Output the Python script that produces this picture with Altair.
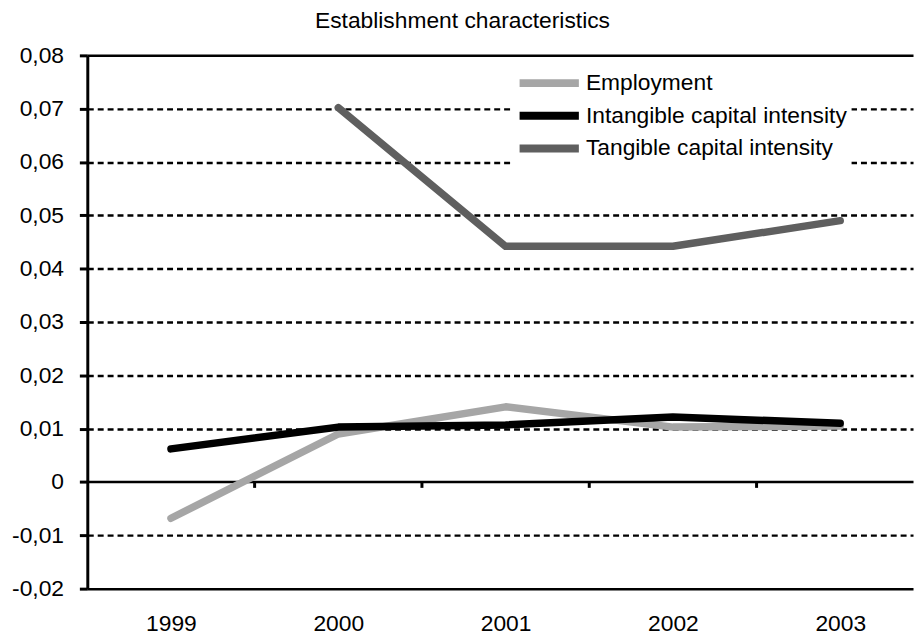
import altair as alt
import pandas as pd

years = [1999, 2000, 2001, 2002, 2003]
employment = [-0.0068, 0.0090, 0.0141, 0.0103, 0.0105]
intangible = [0.0062, 0.0103, 0.0107, 0.0122, 0.0110]
tangible = [None, 0.0702, 0.0442, 0.0442, 0.0490]
series_names = ["Employment", "Intangible capital intensity", "Tangible capital intensity"]
series_colors = ["#a6a6a6", "#000000", "#5f5f5f"]
y_ticks = [-0.02, -0.01, 0.0, 0.01, 0.02, 0.03, 0.04, 0.05, 0.06, 0.07, 0.08]
category_boundaries = [1999.5, 2000.5, 2001.5, 2002.5]
title_text = "Establishment characteristics"

rows = []
for name, vals in zip(series_names, [employment, intangible, tangible]):
    for yr, v in zip(years, vals):
        rows.append({"year": yr, "value": v, "series": name, "order": series_names.index(name)})
df = pd.DataFrame(rows)

FONT = "Liberation Sans"
FS = 23
x_scale = alt.Scale(domain=[1998.5, 2003.435], nice=False, zero=False)
y_scale = alt.Scale(domain=[-0.02, 0.08], nice=False, zero=False)

label_expr = "(datum.value < -1e-9 ? '-' : '') + (abs(datum.value) < 1e-9 ? '0' : replace(format(abs(datum.value), '.2f'), '.', ','))"

lines = alt.Chart(df).mark_line(strokeWidth=7.5, strokeCap="round", strokeJoin="round").encode(
    x=alt.X("year:Q", scale=x_scale,
            axis=alt.Axis(values=years, format="d", title=None, grid=False, domain=False,
                          ticks=False, labelPadding=24, labelFlush=False)),
    y=alt.Y("value:Q", scale=y_scale,
            axis=alt.Axis(values=y_ticks, title=None, labelExpr=label_expr,
                          grid=True, gridColor="black", gridWidth=2.5, gridOpacity=1,
                          gridDash={"condition": {"test": "datum.value > 0.0795 || datum.value < -0.0195 || abs(datum.value) < 0.0001", "value": []},
                                    "value": [6, 4]},
                          domain=True, domainColor="black", domainWidth=3,
                          ticks=True, tickColor="black", tickWidth=3, tickSize=8,
                          labelPadding=16)),
    color=alt.Color("series:N", scale=alt.Scale(domain=series_names, range=series_colors),
                    legend=alt.Legend(title=None, orient="none", legendX=430, legendY=7,
                                      symbolType="M-2.3,0L2.3,0", symbolStrokeWidth=8, symbolSize=676,
                                      labelFont=FONT, labelFontSize=FS, labelColor="black",
                                      labelLimit=500, labelOffset=20, rowPadding=-5,
                                      fillColor="white", padding=4, symbolOffset=15)),
    order="order:Q",
)

tick_df = pd.DataFrame({"x": category_boundaries, "y": [0.0] * 4, "y2": [-0.0011] * 4})
ticks = alt.Chart(tick_df).mark_rule(color="black", strokeWidth=3).encode(
    x=alt.X("x:Q", scale=x_scale), y=alt.Y("y:Q", scale=y_scale), y2="y2:Q"
)

chart = alt.layer(ticks, lines).properties(
    width=833, height=538,
    autosize=alt.AutoSizeParams(type="none"),
    padding={"left": 80, "top": 45, "right": 2, "bottom": 47},
    title=alt.TitleParams(title_text, font=FONT, fontSize=FS, fontWeight="normal",
                          color="black", anchor="middle", dx=-38, offset=12),
).configure_view(stroke=None).configure_axis(
    labelFont=FONT, labelFontSize=FS, labelColor="black"
)

chart.save("out.html", embed_options={"renderer": "svg", "actions": False})
